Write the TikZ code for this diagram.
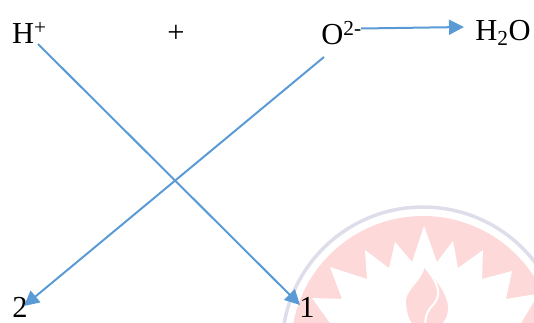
\documentclass[tikz,border=0pt]{standalone}
\usepackage{fontspec}
\setmainfont{Liberation Serif}
\usepackage{tikz}
\usetikzlibrary{arrows.meta}
\definecolor{arrowblue}{HTML}{5B9BD5}
\definecolor{sealpink}{HTML}{FDD9D9}
\definecolor{sealring}{HTML}{DEDEEA}

\begin{document}
\begin{tikzpicture}[x=1pt, y=-1pt, every node/.style={font=\fontsize{30.5}{30.5}\selectfont, inner sep=0pt, text=black}, >={Triangle[length=15pt,width=15pt]}, link/.style={->, draw=arrowblue, line width=2pt}]
	\useasboundingbox (0,0) rectangle (534,322);
	% seal in the background
	\begin{scope}
		\clip (0,0) rectangle (534,322);
		\draw[sealring, line width=3.5pt] (423,348) circle (141);
		\fill[sealpink] (423,348) circle (132);
		\fill[white] (312,298) -- (342,299) -- (330,267) -- (367,279) -- (365,250) -- (389,268) -- (395,242) -- (412,262) -- (424,226) -- (437,262) -- (453,241) -- (458,268) -- (483,250) -- (482,279) -- (512,271) -- (506,299) -- (536,294) -- (536,298) -- (517,330) -- (335,330) -- cycle;
		\fill[sealpink] (425,267) .. controls (436,280) and (448,295) .. (448,308) .. controls (448,318) and (442,330) .. (424,330) .. controls (410,330) and (406,312) .. (406,300) .. controls (408,288) and (421,282) .. (425,267) -- cycle;
		\draw[white, line width=2pt] (425,267) .. controls (440,285) and (442,296) .. (432,306) .. controls (427,311) and (425,316) .. (425,330);
	\end{scope}
	% ions
	\node (hion) at (29.5,33) {H\textsuperscript{+}};
	\node (plus) at (176,34) {+};
	\node (oion) at (341.5,33) {O\textsuperscript{2-}};
	\node (water) at (503,33) {H\textsubscript{2}O};
	\node (two) at (20,307.5) {2};
	\node (one) at (307,307.5) {1};
	% free ends of the arrows
	\coordinate (hstart) at (38,44);
	\coordinate (ostart) at (324,57);
	\coordinate (oright) at (361,28.5);
	\coordinate (wleft) at (464,27);
	\coordinate (twoend) at (24,306);
	\coordinate (oneend) at (300,305);
	\draw[link] (hstart) -- (oneend);
	\draw[link] (ostart) -- (twoend);
	\draw[link] (oright) -- (wleft);
\end{tikzpicture}
\end{document}
